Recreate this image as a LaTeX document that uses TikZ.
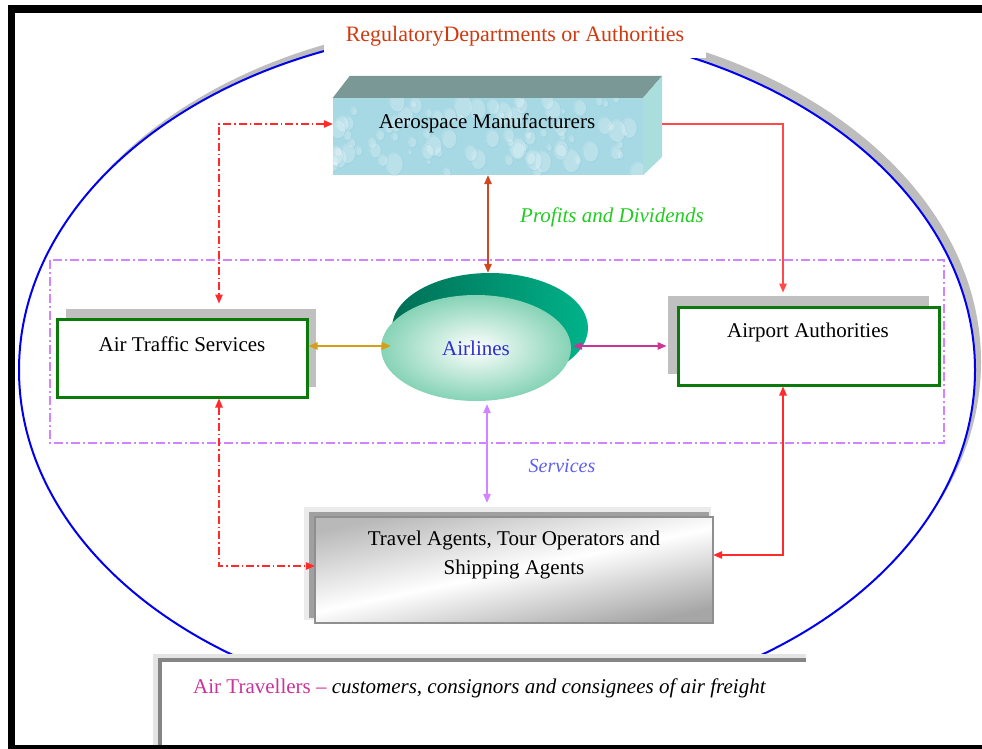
\documentclass[tikz,border=0pt]{standalone}
\usepackage{fontspec}
\setmainfont{Liberation Serif}
\usetikzlibrary{arrows.meta,shapes.geometric,shadows,calc}

\definecolor{titlered}{HTML}{D03A10}
\definecolor{ringblue}{HTML}{0000EE}
\definecolor{ringshadow}{HTML}{BDBDBD}
\definecolor{boxgreen}{HTML}{0B7A0B}
\definecolor{boxshadow}{HTML}{C0C0C0}
\definecolor{zonepurple}{HTML}{D283FF}
\definecolor{linkred}{HTML}{FF2A2A}
\definecolor{linkbrown}{HTML}{D2481E}
\definecolor{linkgold}{HTML}{D4A017}
\definecolor{linkmagenta}{HTML}{CC3399}
\definecolor{textgreen}{HTML}{22CC22}
\definecolor{textservice}{HTML}{6060EE}
\definecolor{textairline}{HTML}{3030CC}
\definecolor{iceblue}{HTML}{A7D9E5}
\definecolor{icedeep}{HTML}{8CC6D8}
\definecolor{icetop}{HTML}{7A9896}
\definecolor{iceside}{HTML}{A9DEDC}
\definecolor{discdark}{HTML}{006E55}
\definecolor{disclight}{HTML}{00B38A}
\definecolor{mint}{HTML}{86D3B6}
\definecolor{travelglow}{HTML}{EBEBEB}
\definecolor{travelshadow}{HTML}{A0A0A0}
\definecolor{traveltop}{HTML}{B9B9B9}
\definecolor{travelbottom}{HTML}{A6A6A6}
\definecolor{traveledge}{HTML}{8F8F8F}
\definecolor{panelglow}{HTML}{E4E4E4}
\definecolor{panelline}{HTML}{858585}

\newcommand\txtsize[1]{\fontsize{#1}{#1}\selectfont}

\begin{document}
\begin{tikzpicture}[x=1pt,y=-1pt,
  >={Triangle[length=9pt,width=7.5pt]},
  greenbox/.style={draw=boxgreen,line width=3pt,fill=white,
    minimum width=250pt,minimum height=78pt,inner sep=0pt},
  boxtext/.style={font=\txtsize{21},text=black},
  link/.style={line width=1.3pt},
  dashlink/.style={line width=1.1pt,linkred,
    dash pattern=on 8pt off 3pt on 1.5pt off 3pt},
  lbl/.style={font=\itshape\txtsize{21}}]

\useasboundingbox (0,0) rectangle (982,749);
\fill[white] (0,0) rectangle (982,749);

% regulatory ring with its shadow
\fill[ringshadow] (503,362) ellipse [x radius=478, y radius=342];
\filldraw[fill=white,draw=ringblue,line width=2pt] (497,370) ellipse [x radius=478, y radius=342];

% dash-dot zone around the operators
\draw[zonepurple,line width=1.6pt,dash pattern=on 9pt off 3pt on 2pt off 3pt]
  (50,260) rectangle (944,443);

% aerospace manufacturers block
\node[fill=iceblue,minimum width=310pt,minimum height=77pt,inner sep=0pt] (aero) at (488,136.5) {};
\begin{scope}
  \clip (aero.south west) rectangle (aero.north east);
  \pgfmathsetseed{11}
  \foreach \k in {1,...,90}{
    \pgfmathsetmacro{\dx}{333+310*rnd}
    \pgfmathsetmacro{\dy}{98+77*rnd}
    \pgfmathsetmacro{\dr}{2+7*rnd}
    \fill[white,opacity=0.22] (\dx,\dy) ellipse [x radius=\dr, y radius=1.3*\dr];
    \draw[icedeep,opacity=0.3,line width=0.6pt] (\dx+0.8,\dy+0.8) ellipse [x radius=\dr, y radius=1.3*\dr];
  }
\end{scope}
\fill[icetop] (aero.north west) -- ++(17,-22) -- ($(aero.north east)+(19,-22)$) -- (aero.north east) -- cycle;
\fill[iceside] (aero.north east) -- ++(19,-22) -- ++(0,81) -- (aero.south east) -- cycle;
\node[boxtext] (aerotext) at (487,123) {Aerospace Manufacturers};

% air traffic services
\node[greenbox,drop shadow={shadow xshift=9pt,shadow yshift=10pt,fill=boxshadow,opacity=1}]
  (ats) at (182,358) {};
\node[boxtext] (atstext) at (182,344) {Air Traffic Services};

% airport authorities
\node[greenbox,minimum width=261pt,drop shadow={shadow xshift=-10pt,shadow yshift=11pt,fill=boxshadow,opacity=1}]
  (airport) at (808.5,346) {};
\node[boxtext] (airporttext) at (808,332) {Airport Authorities};

% airlines disc
\node[ellipse,minimum width=196pt,minimum height=110pt,inner sep=0pt,
  left color=discdark,right color=disclight] (disc) at (490,328) {};
\node[ellipse,minimum width=190pt,minimum height=106pt,inner sep=0pt,
  inner color=white,outer color=mint,text=textairline,font=\txtsize{21}]
  (airlines) at (476,348) {Airlines};

% travel agents block: glow, shadow, shaded face, edge
\fill[travelglow] (304,507) rectangle (711,620);
\fill[travelshadow] (309,512) rectangle (709,618);
\node[minimum width=398pt,minimum height=106pt,inner sep=0pt] (travel) at (514,570) {};
\shade[top color=traveltop,bottom color=travelbottom,middle color=white,shading angle=12]
  (travel.south west) rectangle (travel.north east);
\draw[traveledge,line width=1.5pt] (travel.south west) rectangle (travel.north east);
\node[text=black,align=center,font=\fontsize{21}{29}\selectfont] (traveltext) at (514,555)
  {Travel Agents, Tour Operators and\\Shipping Agents};

% air travellers panel
\fill[panelglow] (153,654) rectangle (806,745);
\fill[panelline] (158,658) rectangle (806,745);
\fill[white] (162,662) rectangle (806,745);
\node[anchor=west,font=\txtsize{21},inner sep=0pt] (travellers) at (193,688)
  {\textcolor{linkmagenta}{Air Travellers –} \textit{customers, consignors and consignees of air freight}};

% connectors
\draw[dashlink,<->] ([shift={(0,-12.5)}]aero.west) -| ([shift={(37,-14)}]ats.north);
\draw[dashlink,<->] ([xshift=37]ats.south) |- ([shift={(0,-4)}]travel.west);
\draw[link,linkred!85,->] ([shift={(19,-12.5)}]aero.east) -| ([shift={(-25.5,-13)}]airport.north);
\draw[link,linkred,<->] ([xshift=-25.5]airport.south) |- ([shift={(0,-15)}]travel.east);
\draw[link,linkbrown,<->] (aero.south) -- (aero.south |- disc.north);
\draw[link,linkgold,<->] ([shift={(0,-12)}]ats.east) -- ([shift={(10,-2)}]airlines.west);
\draw[link,linkmagenta,<->] ([shift={(2,-2)}]airlines.east) -- ([xshift=-10]airport.west);
\draw[link,zonepurple,<->] ([shift={(11,3)}]airlines.south) -- ([shift={(-27,-14)}]travel.north);

% flow captions
\node[lbl,text=textgreen] (profits) at (612,217) {Profits and Dividends};
\node[lbl,text=textservice,font=\itshape\txtsize{20}] (services) at (562,466) {Services};

% regulatory title over the ring
\node[fill=white,minimum width=382pt,minimum height=44pt,text=titlered,font=\txtsize{22}]
  (title) at (515,36) {RegulatoryDepartments or Authorities};

% black frame: top, left and bottom edges
\fill[black] (8,5) rectangle (982,13);
\fill[black] (8,5) rectangle (15,749);
\fill[black] (8,745) rectangle (982,749);
\end{tikzpicture}
\end{document}
